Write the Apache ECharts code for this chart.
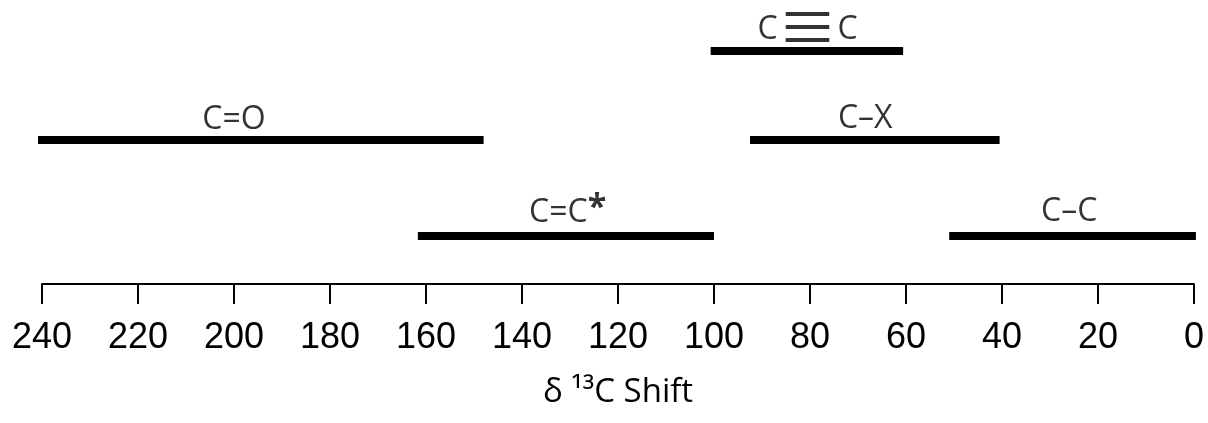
<!DOCTYPE html>
<html>
<head>
<meta charset="utf-8">
<script src="https://cdn.jsdelivr.net/npm/echarts@6/dist/echarts.min.js"></script>
<style>
html,body{margin:0;padding:0;background:#fff;}
#chart{width:1208px;height:423px;}
</style>
</head>
<body>
<div id="chart"></div>
<script>
const bondLabels = ['C≡C', 'C=O', 'C–X', 'C=C*', 'C–C'];
const rangeStart = [100.7, 242, 92.5, 161.7, 51];
const rangeEnd = [60.6, 148, 40.5, 100, -0.4];
const rowLevel = [2.93, 2, 2, 1, 1];
const labelPos = [80.5, 200, 68.5, 130.5, 26];
const labelLevel = [3.17, 2.236, 2.241, 1.266, 1.277];
const axisTitle = 'δ ¹³C Shift';

const chart = echarts.init(document.getElementById('chart'));

const series = [];
bondLabels.forEach((name, i) => {
  series.push({
    type: 'line',
    name: name,
    data: [[rangeStart[i], rowLevel[i]], [rangeEnd[i], rowLevel[i]]],
    showSymbol: false,
    symbol: 'none',
    clip: false,
    silent: true,
    lineStyle: { color: '#000', width: 8, cap: 'butt' },
    animation: false
  });
});

function fmt(p) {
  const n = p.name;
  if (n.indexOf('≡') >= 0) {
    const parts = n.split('≡');
    return '{a|' + parts[0] + '}{t|≡}{a|' + parts[1] + '}';
  }
  if (n.endsWith('*')) return '{a|' + n.slice(0, -1) + '}{b|*}';
  return '{a|' + n + '}';
}

series.push({
  type: 'scatter',
  symbolSize: 0,
  silent: true,
  animation: false,
  data: bondLabels.map((name, i) => ({ name: name, value: [labelPos[i], labelLevel[i]] })),
  label: {
    show: true,
    position: 'inside',
    offset: [0, 2],
    color: '#000',
    fontFamily: 'Open Sans',
    fontSize: 32,
    formatter: fmt,
    rich: {
      a: { fontFamily: 'Open Sans', fontSize: 32, color: '#000', height: 36 },
      t: { fontFamily: 'Noto Sans CJK JP', fontSize: 60, color: '#000', height: 36, padding: [0, 0, 5, 0] },
      b: { fontFamily: 'Open Sans', fontSize: 34, fontWeight: 'bold', color: '#000', height: 36, padding: [0, 0, 8, 0] }
    }
  }
});

chart.setOption({
  backgroundColor: '#fff',
  animation: false,
  grid: { left: 42, right: 14, top: 1, bottom: 139 },
  xAxis: {
    type: 'value',
    inverse: true,
    min: 0,
    max: 240,
    interval: 20,
    splitLine: { show: false },
    axisLine: { show: true, lineStyle: { color: '#000', width: 2 } },
    axisTick: { show: true, length: 20, lineStyle: { color: '#000', width: 2 } },
    axisLabel: { color: '#000', fontFamily: 'Liberation Sans', fontSize: 36, margin: 36 },
    name: axisTitle,
    nameLocation: 'middle',
    nameGap: 92,
    nameTextStyle: { color: '#000', fontFamily: 'Open Sans', fontSize: 33 }
  },
  yAxis: {
    type: 'value',
    min: 0.5,
    max: 3.45,
    show: false
  },
  series: series
});
</script>
</body>
</html>
